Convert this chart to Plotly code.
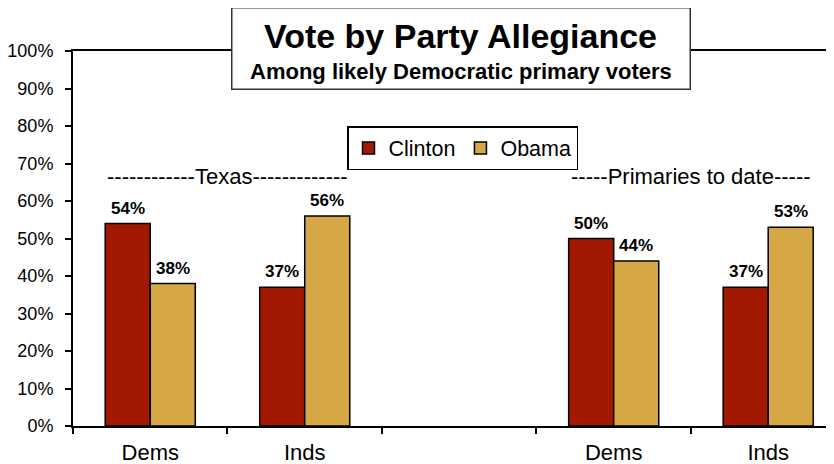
import plotly.graph_objects as go

categories = ["d1", "i1", "gap", "d2", "i2"]
tick_labels = ["Dems", "Inds", "", "Dems", "Inds"]
clinton = [54, 37, None, 50, 37]
obama = [38, 56, None, 44, 53]
y_ticks = [0, 10, 20, 30, 40, 50, 60, 70, 80, 90, 100]
section_labels = ["------------Texas-------------", "-----Primaries to date-----"]
section_x = [0.5, 3.5]
section_y = [66.6, 66.6]
title_text = "Vote by Party Allegiance"
subtitle_text = "Among likely Democratic primary voters"

FONT = "Liberation Sans, Arial, sans-serif"
RED = "#A31800"
GOLD = "#D6A845"

# page body has an 8px margin; plot area in page coordinates: x 73..834, y 51..426
W, H = 826, 456
ML, MT, MB = 65, 43, 38
PLOT_W = 761
PLOT_H = 375


def px_x(px):
    return (px - 73) / PLOT_W


def px_y(py):
    return (426 - py) / PLOT_H


fig = go.Figure()
fig.add_trace(go.Bar(
    x=categories, y=clinton, name="Clinton",
    marker=dict(color=RED, line=dict(color="black", width=1.5)),
))
fig.add_trace(go.Bar(
    x=categories, y=obama, name="Obama",
    marker=dict(color=GOLD, line=dict(color="black", width=1.5)),
))

# value labels above the bars
for series, shift in ((clinton, -22.5), (obama, 22.5)):
    for c, v in zip(categories, series):
        if v is None:
            continue
        fig.add_annotation(x=c, y=v, xref="x", yref="y", text=f"<b>{v}%</b>",
                           showarrow=False, yanchor="bottom", xshift=shift, yshift=5,
                           borderpad=0,
                           font=dict(family=FONT, size=17, color="black"))

for t, x, y in zip(section_labels, section_x, section_y):
    fig.add_annotation(x=x, y=y, xref="x", yref="y", text=t, showarrow=False,
                       borderpad=0,
                       font=dict(family=FONT, size=22, color="black"))

# title box
fig.add_annotation(
    x=px_x(460.5), y=px_y(49), xref="paper", yref="paper",
    xanchor="center", yanchor="middle", text=" ", showarrow=False,
    bgcolor="white", bordercolor="#333333", borderwidth=1.5,
    width=455, height=78,
)
fig.add_annotation(
    x=px_x(460.5), y=px_y(36), xref="paper", yref="paper",
    xanchor="center", yanchor="middle", text=f"<b>{title_text}</b>", showarrow=False,
    font=dict(family=FONT, size=34, color="black"),
)
fig.add_annotation(
    x=px_x(460.5), y=px_y(71), xref="paper", yref="paper",
    xanchor="center", yanchor="middle", text=f"<b>{subtitle_text}</b>", showarrow=False,
    font=dict(family=FONT, size=22, color="black"),
)

fig.update_layout(
    width=W, height=H,
    margin=dict(l=ML, r=0, t=MT, b=MB, pad=0),
    paper_bgcolor="white", plot_bgcolor="white",
    barmode="group", bargap=0.417, bargroupgap=0,
    font=dict(family=FONT, size=18, color="black"),
    legend=dict(
        orientation="h", x=px_x(347), y=px_y(126),
        xanchor="left", yanchor="top",
        bordercolor="black", borderwidth=1.5, bgcolor="white",
        font=dict(family=FONT, size=21.5, color="black"),
        tracegroupgap=0,
    ),
    showlegend=True,
)
fig.update_xaxes(
    type="category", categoryorder="array", categoryarray=categories,
    tickvals=categories, ticktext=tick_labels,
    tickson="boundaries", ticks="outside", ticklen=6, tickwidth=1.5, tickcolor="black",
    showline=True, linecolor="black", linewidth=2, mirror=True,
    range=[-0.5, 4.426], showgrid=False, ticklabelstandoff=6,
    tickfont=dict(family=FONT, size=22, color="black"),
)
fig.update_yaxes(
    range=[0, 100], tickvals=y_ticks, ticktext=[f"{v}%" for v in y_ticks],
    ticks="outside", ticklen=6, tickwidth=1.5, tickcolor="black",
    showline=True, linecolor="black", linewidth=2, showgrid=False, zeroline=False,
    ticklabelstandoff=8,
    tickfont=dict(family=FONT, size=18, color="black"),
)

fig.write_html("out.html")
